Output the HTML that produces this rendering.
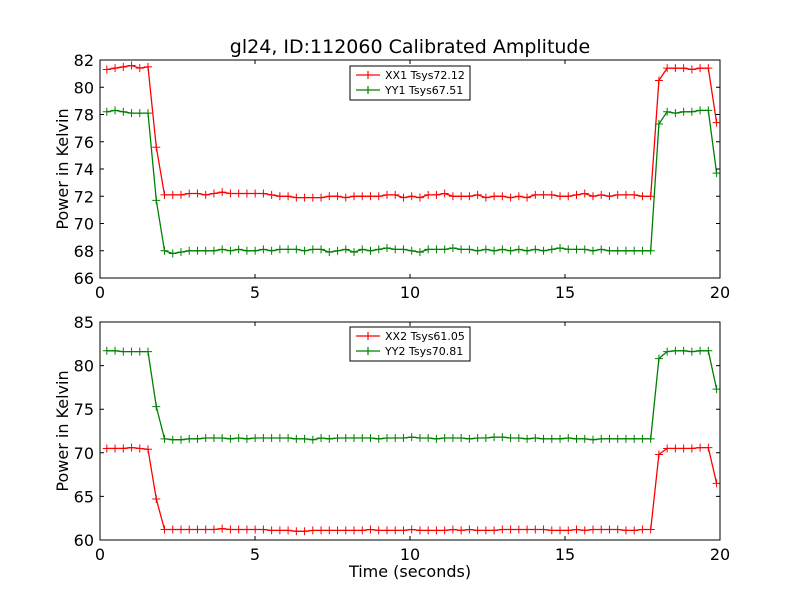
<!DOCTYPE html>
<html><head><meta charset="utf-8"><style>
body{margin:0;background:#fff;font-family:"Liberation Sans","DejaVu Sans",sans-serif}
svg text{font-family:"DejaVu Sans","Liberation Sans",sans-serif}
</style></head><body>
<svg id="c" width="800" height="600" xmlns="http://www.w3.org/2000/svg">
<rect width="800" height="600" fill="#fff"/>
<text x="410" y="53" font-size="19" text-anchor="middle">gl24, ID:112060 Calibrated Amplitude</text>
</svg>
<script>
const T0 = 0.22, T1 = 19.89;
const xx1 = [81.3,81.4,81.5,81.6,81.4,81.5,75.6,
72.1,72.1,72.1,72.2,72.2,72.1,72.2,72.3,72.2,72.2,72.2,72.2,72.2,72.1,72.0,72.0,71.9,71.9,71.9,71.9,72.0,72.0,71.9,72.0,72.0,72.0,72.0,72.1,72.1,71.9,72.0,71.9,72.1,72.1,72.2,72.0,72.0,72.0,72.1,71.9,72.0,72.0,71.9,72.0,71.9,72.1,72.1,72.1,72.0,72.0,72.1,72.2,72.0,72.1,72.0,72.1,72.1,72.1,72.0,72.0,
80.5,81.4,81.4,81.4,81.3,81.4,81.4,77.4];
const yy1 = [78.2,78.3,78.2,78.1,78.1,78.1,71.7,
68.0,67.8,67.9,68.0,68.0,68.0,68.0,68.1,68.0,68.1,68.0,68.0,68.1,68.0,68.1,68.1,68.1,68.0,68.1,68.1,67.9,68.0,68.1,67.9,68.1,68.0,68.1,68.2,68.1,68.1,68.0,67.9,68.1,68.1,68.1,68.2,68.1,68.1,68.0,68.1,68.0,68.1,68.0,68.1,68.0,68.1,68.0,68.1,68.2,68.1,68.1,68.1,68.0,68.1,68.0,68.0,68.0,68.0,68.0,68.0,
77.3,78.2,78.1,78.2,78.2,78.3,78.3,73.7];
const xx2 = [70.5,70.5,70.5,70.6,70.5,70.4,64.7,
61.2,61.2,61.2,61.2,61.2,61.2,61.2,61.3,61.2,61.2,61.2,61.2,61.2,61.1,61.1,61.1,61.0,61.0,61.1,61.1,61.1,61.1,61.1,61.1,61.1,61.2,61.1,61.1,61.1,61.1,61.2,61.1,61.1,61.1,61.1,61.2,61.1,61.2,61.1,61.1,61.1,61.2,61.2,61.2,61.2,61.2,61.2,61.1,61.1,61.1,61.2,61.1,61.2,61.2,61.2,61.2,61.1,61.1,61.2,61.2,
69.8,70.5,70.5,70.5,70.5,70.6,70.6,66.5];
const yy2 = [81.7,81.7,81.6,81.6,81.6,81.6,75.3,
71.6,71.5,71.5,71.6,71.6,71.7,71.7,71.7,71.6,71.7,71.6,71.7,71.7,71.7,71.7,71.7,71.6,71.6,71.5,71.7,71.6,71.7,71.7,71.7,71.7,71.7,71.6,71.7,71.7,71.7,71.8,71.7,71.7,71.6,71.7,71.7,71.7,71.6,71.7,71.7,71.8,71.8,71.7,71.7,71.6,71.7,71.6,71.6,71.6,71.7,71.6,71.6,71.5,71.6,71.6,71.6,71.6,71.6,71.6,71.6,
80.8,81.6,81.7,81.7,81.6,81.7,81.7,77.3];
const xTicks = [0,5,10,15,20];
const yTicks1 = [66,68,70,72,74,76,78,80,82];
const yTicks2 = [60,65,70,75,80,85];
const legend1 = ["XX1 Tsys72.12","YY1 Tsys67.51"];
const legend2 = ["XX2 Tsys61.05","YY2 Tsys70.81"];

const NS="http://www.w3.org/2000/svg", svg=document.getElementById('c');
function mk(tag,attrs,parent){const e=document.createElementNS(NS,tag);for(const k in attrs)e.setAttribute(k,attrs[k]);(parent||svg).appendChild(e);return e;}

function panel(name,top,bottom,ymin,ymax,yTicks,series,colors,labels,legY,xlabel){
  const L=100,R=720;
  const g=mk('g',{});
  
  
  const sx=t=>L+(t-0)/(20-0)*(R-L);
  const sy=v=>bottom-(v-ymin)/(ymax-ymin)*(bottom-top);
  series.forEach((s,k)=>{
    const DT=(T1-T0)/(s.length-1);
    const pts=s.map((v,i)=>sx(T0+DT*i).toFixed(1)+','+sy(v).toFixed(1)).join(' ');
    const line=mk('polyline',{points:pts,fill:'none',stroke:colors[k],'stroke-width':1.3},g);
    
    
    let d='';
    s.forEach((v,i)=>{const x=sx(T0+DT*i),y=sy(v);d+=`M${x-4},${y}h8M${x},${y-4}v8`;});
    const m=mk('path',{d:d,stroke:colors[k],'stroke-width':1,fill:'none'},g);
    
    
  });
  const fr=mk('rect',{x:L,y:top,width:R-L,height:bottom-top,fill:'none',stroke:'#000','stroke-width':1},g);
  
  
  xTicks.forEach(t=>{
    const x=sx(t);
    mk('path',{d:`M${x},${bottom}v-4M${x},${top}v4`,stroke:'#000'},g);
    const tx=mk('text',{x:x,y:bottom+20,'font-size':16,'text-anchor':'middle'},g);
    tx.textContent=t;
    
    
  });
  yTicks.forEach(v=>{
    const y=sy(v);
    mk('path',{d:`M${L},${y}h4M${R},${y}h-4`,stroke:'#000'},g);
    const tx=mk('text',{x:L-6,y:y+6,'font-size':16,'text-anchor':'end'},g);
    tx.textContent=v;
    
    
  });
  const yl=mk('text',{x:0,y:0,'font-size':16,'text-anchor':'middle',transform:`translate(68,${(top+bottom)/2}) rotate(-90)`},g);
  yl.textContent='Power in Kelvin';
  
  
  if(xlabel){
    const xl=mk('text',{x:410,y:577,'font-size':16,'text-anchor':'middle'},g);
    xl.textContent=xlabel;
    
    
  }
  const lg=mk('g',{},g);
  
  
  mk('rect',{x:350,y:legY,width:120,height:34,fill:'#fff',stroke:'#000','stroke-width':1},lg);
  labels.forEach((lab,k)=>{
    const y=legY+9+k*15;
    mk('path',{d:`M356,${y}h24M368,${y-4}v8M364,${y}h8`,stroke:colors[k],'stroke-width':1.2},lg);
    const tx=mk('text',{x:385,y:y+4,'font-size':11},lg);
    tx.textContent=lab;
    
    
  });
}
panel('top-panel',60,278,66,82,yTicks1,[xx1,yy1],['#ff0000','#008000'],legend1,66,null);
panel('bottom-panel',322,540,60,85,yTicks2,[xx2,yy2],['#ff0000','#008000'],legend2,327,'Time (seconds)');
</script>
</body></html>
